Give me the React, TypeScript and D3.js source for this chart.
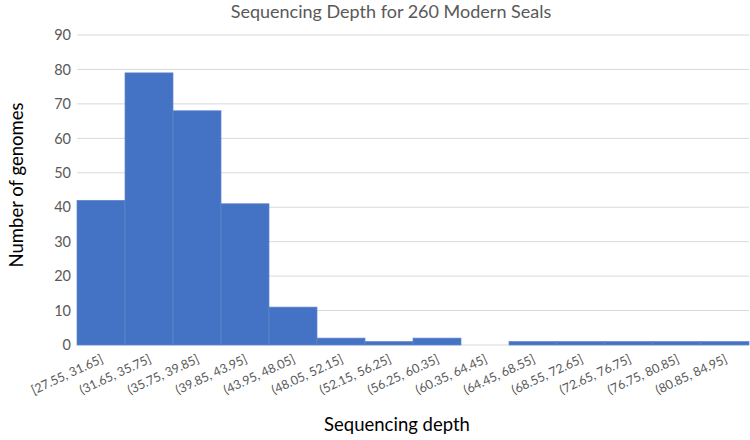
import React from 'react';
import * as d3 from 'd3';

const bins = [
  '[27.55, 31.65]', '(31.65, 35.75]', '(35.75, 39.85]', '(39.85, 43.95]', '(43.95, 48.05]',
  '(48.05, 52.15]', '(52.15, 56.25]', '(56.25, 60.35]', '(60.35, 64.45]', '(64.45, 68.55]',
  '(68.55, 72.65]', '(72.65, 76.75]', '(76.75, 80.85]', '(80.85, 84.95]',
];
const counts = [42, 79, 68, 41, 11, 2, 1, 2, 0, 1, 1, 1, 1, 1];
const yTicks = [0, 10, 20, 30, 40, 50, 60, 70, 80, 90];

const W = 750;
const H = 440;
const margin = { top: 35, right: 1, bottom: 95, left: 77 };
const font = "Lato, 'Open Sans', sans-serif";

export default function App() {
  const x = d3.scaleBand().domain(bins).range([margin.left, W - margin.right]).padding(0);
  const y = d3.scaleLinear().domain([0, 90]).range([H - margin.bottom, margin.top]);

  return (
    <svg width={W} height={H} style={{ position: 'absolute', left: 0, top: 0, background: '#fff' }}>
      <text x={391} y={18} textAnchor="middle" fontFamily={font} fontSize={18} fill="#595959">
        Sequencing Depth for 260 Modern Seals
      </text>
      {yTicks.map(t => (
        <g key={t}>
          <line x1={margin.left} x2={W - margin.right} y1={y(t)} y2={y(t)} stroke="#d9d9d9" strokeWidth={1} />
          <text x={71} y={y(t)} dy="0.36em" textAnchor="end" fontFamily={font} fontSize={14.5} fill="#595959">{t}</text>
        </g>
      ))}
      {counts.map((c, i) => (
        <rect key={bins[i]} x={x(bins[i])} y={y(c)} width={x.bandwidth()} height={y(0) - y(c)}
          fill="#4472C4" stroke="#5f86cc" strokeWidth={c > 0 ? 0.7 : 0} />
      ))}
      {bins.map(b => {
        const cx = (x(b) as number) + x.bandwidth() / 2 + 3;
        return (
          <text key={b} transform={`translate(${cx},${362}) rotate(-25)`} textAnchor="end"
            fontFamily={font} fontSize={12.5} fill="#595959">{b}</text>
        );
      })}
      <text x={397} y={431} textAnchor="middle" fontFamily={font} fontSize={18.5} fill="#000">Sequencing depth</text>
      <text transform={`translate(23,${185}) rotate(-90)`} textAnchor="middle" fontFamily={font} fontSize={18.5} fill="#000">
        Number of genomes
      </text>
    </svg>
  );
}
